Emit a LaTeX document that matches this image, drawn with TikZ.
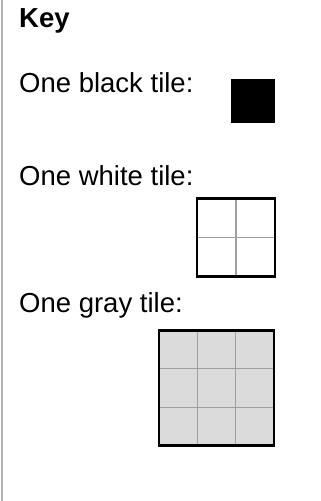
\documentclass[tikz,border=0pt]{standalone}
\usepackage{fontspec}
\setmainfont{Liberation Sans}
\usetikzlibrary{calc}
\begin{document}
\begin{tikzpicture}[x=1pt,y=-1pt,
  lbl/.style={anchor=base west,inner sep=0pt,font=\fontsize{27.5}{33}\selectfont},
  tilebox/.style={draw=none,inner sep=0pt,outer sep=0pt},
  border/.style={draw=black,line width=2.6pt},
  grid/.style={draw=gray!75,line width=1.3pt}]
\useasboundingbox (0,0) rectangle (321,501);
\fill[white] (0,0) rectangle (321,501);
\draw[gray!60,line width=2pt] (1.5,0) -- (1.5,501);
\node[lbl,font=\fontsize{27.5}{33}\selectfont\bfseries] (key) at (19,27) {Key};
\node[lbl] (lblack) at (19,92) {One black tile:};
\node[lbl] (lwhite) at (19,185) {One white tile:};
\node[lbl] (lgray) at (19,312) {One gray tile:};
% black tile
\node[tilebox,fill=black,minimum size=44pt] (bt) at (253,101) {};
% white tile
\node[tilebox,fill=white,minimum size=78pt] (wt) at (236,237.5) {};
\draw[grid] (wt.north) -- (wt.south);
\draw[grid] (wt.west) -- (wt.east);
\draw[border] (wt.north west) rectangle (wt.south east);
% gray tile
\node[tilebox,fill=black!14,minimum size=115pt] (gt) at (216.5,388) {};
\foreach \f in {0.3333,0.6667}{
  \draw[grid] ($(gt.north west)!\f!(gt.north east)$) -- ($(gt.south west)!\f!(gt.south east)$);
  \draw[grid] ($(gt.north west)!\f!(gt.south west)$) -- ($(gt.north east)!\f!(gt.south east)$);
}
\draw[border] (gt.north west) rectangle (gt.south east);
\end{tikzpicture}
\end{document}
